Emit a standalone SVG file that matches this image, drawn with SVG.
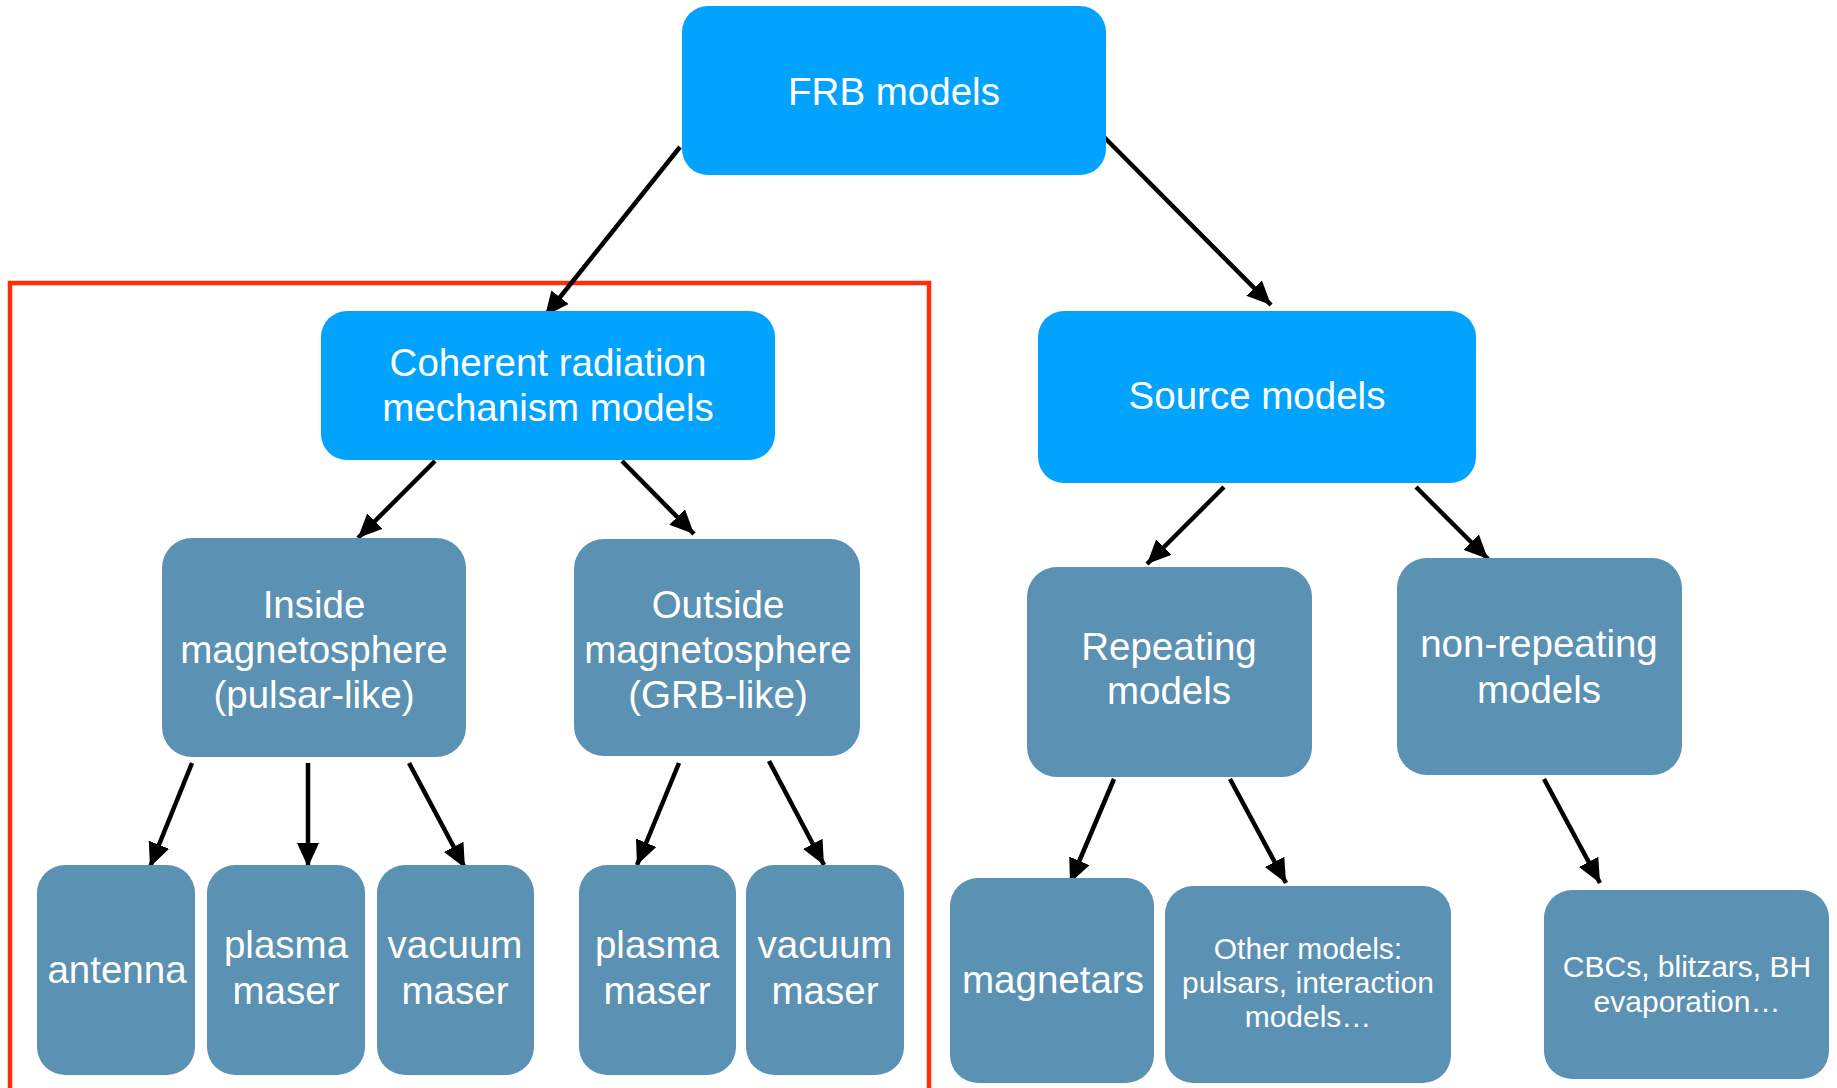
<svg xmlns="http://www.w3.org/2000/svg" width="1837" height="1088" viewBox="0 0 1837 1088">
<defs>
<marker id="ah" markerUnits="userSpaceOnUse" markerWidth="26" markerHeight="26" viewBox="0 0 26 26" refX="24" refY="13" orient="auto">
<path d="M0,2 L24,13 L0,24 z" fill="#000"/>
</marker>
<style>
.top{fill:#02A3FE}
.sub{fill:#5B91B3}
.t{font-family:"Liberation Sans",Arial,Helvetica,sans-serif;fill:#fff;text-anchor:middle;font-size:38.5px}
.s{font-size:30px}
.c{stroke:#000;stroke-width:4.5;fill:none;marker-end:url(#ah)}
</style>
</defs>
<rect width="1837" height="1088" fill="#fff"/>
<rect x="10" y="283" width="919" height="850" fill="none" stroke="#FF2D0A" stroke-width="4.5"/>
<g id="connectors">
<line class="c" x1="680" y1="147" x2="545" y2="316"/>
<line class="c" x1="1104" y1="137" x2="1271" y2="305"/>
<line class="c" x1="435" y1="461" x2="358" y2="538"/>
<line class="c" x1="622" y1="461" x2="694" y2="534"/>
<line class="c" x1="1224" y1="487" x2="1147" y2="564"/>
<line class="c" x1="1416" y1="487" x2="1488" y2="559"/>
<line class="c" x1="192" y1="763" x2="150" y2="867"/>
<line class="c" x1="308" y1="763" x2="308" y2="867"/>
<line class="c" x1="409" y1="763" x2="465" y2="868"/>
<line class="c" x1="679" y1="763" x2="637" y2="865"/>
<line class="c" x1="769" y1="761" x2="824" y2="865"/>
<line class="c" x1="1114" y1="779" x2="1070" y2="883"/>
<line class="c" x1="1230" y1="779" x2="1286" y2="883"/>
<line class="c" x1="1544" y1="779" x2="1600" y2="883"/>
</g>
<g id="frb"><rect class="top" x="682" y="6" width="424" height="169" rx="26"/><text class="t" x="894" y="105">FRB models</text></g>
<g id="coherent"><rect class="top" x="321" y="311" width="454" height="149" rx="26"/><text class="t" x="548" y="376">Coherent radiation</text><text class="t" x="548" y="421">mechanism models</text></g>
<g id="source"><rect class="top" x="1038" y="311" width="438" height="172" rx="26"/><text class="t" x="1257" y="409">Source models</text></g>
<g id="inside"><rect class="sub" x="162" y="538" width="304" height="219" rx="30"/><text class="t" x="314" y="618">Inside</text><text class="t" x="314" y="663">magnetosphere</text><text class="t" x="314" y="708">(pulsar-like)</text></g>
<g id="outside"><rect class="sub" x="574" y="539" width="286" height="217" rx="30"/><text class="t" x="718" y="618">Outside</text><text class="t" x="718" y="663">magnetosphere</text><text class="t" x="718" y="708">(GRB-like)</text></g>
<g id="repeating"><rect class="sub" x="1027" y="567" width="285" height="210" rx="30"/><text class="t" x="1169" y="660">Repeating</text><text class="t" x="1169" y="704">models</text></g>
<g id="nonrepeating"><rect class="sub" x="1397" y="558" width="285" height="217" rx="30"/><text class="t" x="1539" y="657">non-repeating</text><text class="t" x="1539" y="703">models</text></g>
<g id="antenna"><rect class="sub" x="37" y="865" width="158" height="210" rx="28"/><text class="t" x="117" y="983">antenna</text></g>
<g id="plasma1"><rect class="sub" x="207" y="865" width="158" height="210" rx="28"/><text class="t" x="286" y="958">plasma</text><text class="t" x="286" y="1004">maser</text></g>
<g id="vacuum1"><rect class="sub" x="377" y="865" width="157" height="210" rx="28"/><text class="t" x="455" y="958">vacuum</text><text class="t" x="455" y="1004">maser</text></g>
<g id="plasma2"><rect class="sub" x="579" y="865" width="157" height="210" rx="28"/><text class="t" x="657" y="958">plasma</text><text class="t" x="657" y="1004">maser</text></g>
<g id="vacuum2"><rect class="sub" x="746" y="865" width="158" height="210" rx="28"/><text class="t" x="825" y="958">vacuum</text><text class="t" x="825" y="1004">maser</text></g>
<g id="magnetars"><rect class="sub" x="950" y="878" width="204" height="205" rx="28"/><text class="t" x="1053" y="993">magnetars</text></g>
<g id="other"><rect class="sub" x="1165" y="886" width="286" height="197" rx="28"/><text class="t s" x="1308" y="959">Other models:</text><text class="t s" x="1308" y="993">pulsars, interaction</text><text class="t s" x="1308" y="1027">models…</text></g>
<g id="cbcs"><rect class="sub" x="1544" y="890" width="285" height="189" rx="28"/><text class="t s" x="1687" y="977">CBCs, blitzars, BH</text><text class="t s" x="1687" y="1012">evaporation…</text></g>
</svg>
